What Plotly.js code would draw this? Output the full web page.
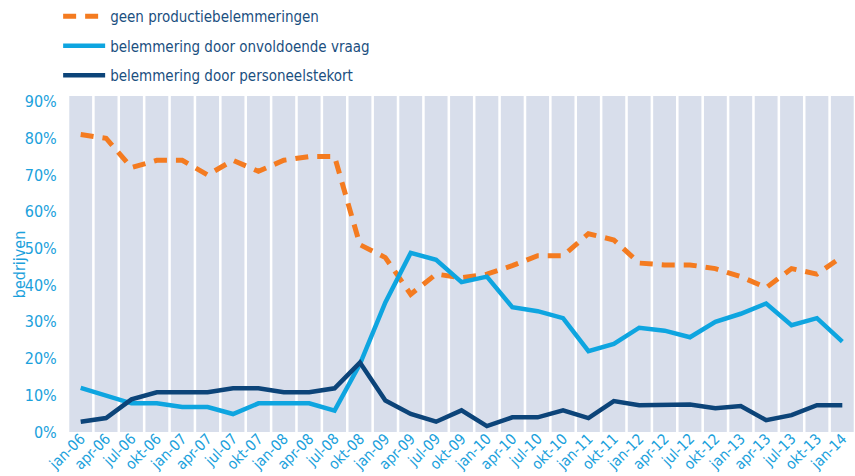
<!DOCTYPE html>
<html>
<head>
<meta charset="utf-8">
<script src="https://cdn.plot.ly/plotly-3.0.1.min.js"></script>
<style>html,body{margin:0;padding:0;background:#fff;}#chart{width:855px;height:476px;}</style>
</head>
<body>
<div id="chart"></div>
<script>
const categories = ["jan-06","apr-06","jul-06","okt-06","jan-07","apr-07","jul-07","okt-07","jan-08","apr-08","jul-08","okt-08","jan-09","apr-09","jul-09","okt-09","jan-10","apr-10","jul-10","okt-10","jan-11","okt-11","jan-12","apr-12","jul-12","okt-12","jan-13","apr-13","jul-13","okt-13","jan-14"];
const geenBelemmering = [81,80,72,74,74,70,74,71,74,75,75,51,47.5,37.5,43,42,43,45.3,48,48,54,52.3,46,45.5,45.5,44.5,42.3,39.3,44.5,43,47.8];
const onvoldoendeVraag = [12,9.8,7.8,7.8,6.8,6.8,4.9,7.8,7.8,7.8,5.8,18.5,35.3,48.8,46.9,40.8,42.3,34,32.9,31,22,24,28.4,27.6,25.8,30,32.2,35,29.1,31,24.6];
const personeelstekort = [2.8,3.8,8.9,10.8,10.8,10.8,11.9,11.9,10.8,10.8,11.9,18.9,8.6,4.9,2.8,5.9,1.6,4,4,5.9,3.8,8.4,7.3,7.3,7.5,6.5,7.1,3.2,4.6,7.3,7.3];
const seriesNames = ["geen productiebelemmeringen","belemmering door onvoldoende vraag","belemmering door personeelstekort"];
const yTickVals = [0,10,20,30,40,50,60,70,80,90];
const yTickText = ["0%","10%","20%","30%","40%","50%","60%","70%","80%","90%"];
const yTitle = "bedrijven";

const FONT = '"DejaVu Sans Condensed","Liberation Sans Narrow",sans-serif';
const LIGHT = '#1ba1dc';
const idx = categories.map((c,i)=>i);

const traces = [
  {x: idx, y: geenBelemmering, name: seriesNames[0], type:'scatter', mode:'lines',
   line:{color:'#f47b20', width:5, dash:'13px,9px'}},
  {x: idx, y: onvoldoendeVraag, name: seriesNames[1], type:'scatter', mode:'lines',
   line:{color:'#0ea5e0', width:4.5}},
  {x: idx, y: personeelstekort, name: seriesNames[2], type:'scatter', mode:'lines',
   line:{color:'#0c4479', width:4.5}}
];

const shapes = categories.map((c,i)=>({type:'rect', xref:'x', yref:'paper', x0:i-0.45, x1:i+0.45, y0:0, y1:1,
  fillcolor:'#d8deeb', line:{width:0}, layer:'below'}));

const layout = {
  width:855, height:476,
  margin:{l:68, r:0, t:96, b:44, autoexpand:false},
  paper_bgcolor:'#fff', plot_bgcolor:'#fff',
  font:{family:FONT, color:LIGHT, size:15},
  showlegend:true,
  legend:{xref:'container', yref:'container', x:0.068, y:1.0, xanchor:'left', yanchor:'top',
    font:{family:FONT, size:15, color:'#1b4f80'}, bgcolor:'rgba(0,0,0,0)', itemwidth:42, tracegroupgap:7},
  xaxis:{type:'linear', range:[-0.5, categories.length-0.5], tickmode:'array', tickvals:idx, ticktext:categories,
    tickangle:-45, showgrid:false, zeroline:false, showline:false, ticks:'', ticklabelstandoff:-6,
    tickfont:{family:FONT, size:15, color:LIGHT}},
  yaxis:{range:[0,91.5], tickmode:'array', tickvals:yTickVals, ticktext:yTickText, showgrid:false, zeroline:false,
    showline:false, ticks:'outside', ticklen:7, tickcolor:'rgba(0,0,0,0)', tickfont:{family:FONT, size:16, color:LIGHT}},
  annotations:[{text:yTitle, xref:'paper', yref:'paper', x:-0.062, y:0.5, xanchor:'center', yanchor:'middle',
    textangle:-90, showarrow:false, font:{family:FONT, size:16, color:LIGHT}}],
  shapes: shapes
};
traces.forEach((t,i)=>{t.legendgroup='g'+i; t.hoverinfo='skip';});
Plotly.newPlot('chart', traces, layout, {displayModeBar:false, staticPlot:true});
</script>
</body>
</html>
